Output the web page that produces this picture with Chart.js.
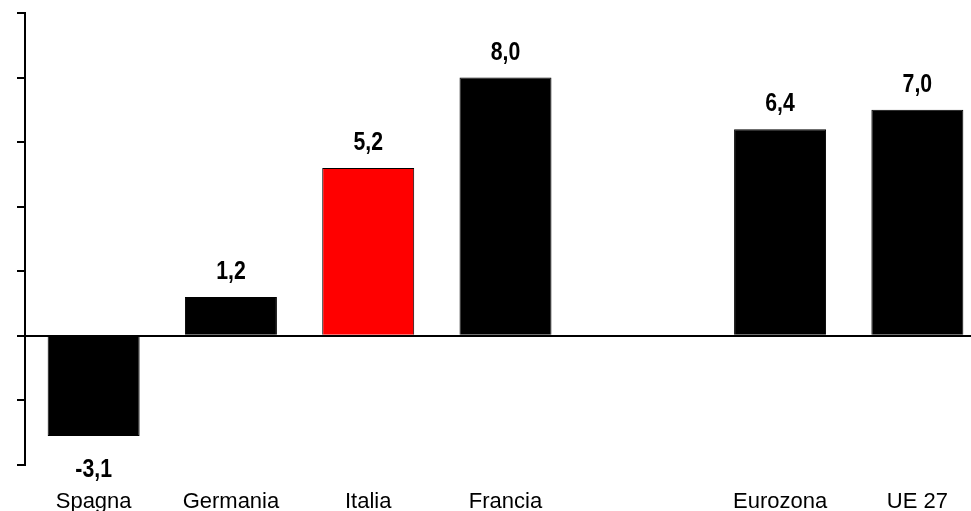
<!DOCTYPE html>
<html>
<head>
<meta charset="utf-8">
<script src="https://cdn.jsdelivr.net/npm/chart.js@4.4.1/dist/chart.umd.min.js"></script>
<style>
    html, body { margin: 0; padding: 0; background: #fff; overflow: hidden; }
    #wrap { width: 986px; height: 511px; }
</style>
</head>
<body>
<div id="wrap"><canvas id="bar-chart" width="986" height="511"></canvas></div>
<script>
// chart data
const countries = ['Spagna', 'Germania', 'Italia', 'Francia', '', 'Eurozona', 'UE 27'];
const values = [-3.1, 1.2, 5.2, 8.0, null, 6.4, 7.0];
const barColors = ['#000000', '#000000', '#ff0000', '#000000', '#000000', '#000000', '#000000'];
const yTicks = [-4, -2, 0, 2, 4, 6, 8, 10];

// writes the value (with comma) above or below each bar
const valueLabels = {
    id: 'valueLabels',
    afterDatasetsDraw(chart) {
        const ctx = chart.ctx;
        const meta = chart.getDatasetMeta(0);
        ctx.save();
        ctx.fillStyle = '#000';
        ctx.font = 'bold 25px "Liberation Sans", Arial, sans-serif';
        ctx.textAlign = 'center';
        ctx.textBaseline = 'alphabetic';
        meta.data.forEach((bar, i) => {
            const v = values[i];
            if (v === null) return;
            const text = v.toFixed(1).replace('.', ',');
            const y = v >= 0 ? bar.y - 18 : bar.y + 41;
            ctx.save();
            ctx.translate(bar.x, y);
            ctx.scale(0.85, 1);
            ctx.fillText(text, 0, 0);
            ctx.restore();
        });
        ctx.restore();
    }
};

const ctx = document.getElementById('bar-chart').getContext('2d');
new Chart(ctx, {
    type: 'bar',
    data: {
        labels: countries,
        datasets: [{
            data: values,
            backgroundColor: barColors,
            borderColor: '#000',
            borderWidth: 1,
            barPercentage: 0.67,
            categoryPercentage: 1
        }]
    },
    options: {
        responsive: false,
        animation: false,
        layout: { padding: { top: 13, left: 0, right: 0, bottom: 0 } },
        plugins: {
            legend: { display: false },
            tooltip: { enabled: false }
        },
        scales: {
            x: {
                grid: { display: false },
                border: { display: false },
                ticks: {
                    color: '#000',
                    padding: 16,
                    font: { family: '"Liberation Sans", Arial, sans-serif', size: 22 },
                    maxRotation: 0,
                    autoSkip: false
                },
                afterFit(scale) { scale.height = 46; }
            },
            y: {
                min: -4,
                max: 10,
                afterBuildTicks(scale) { scale.ticks = yTicks.map(v => ({ value: v })); },
                ticks: { display: false },
                grid: {
                    color: c => (c.tick && c.tick.value === 0) ? '#000' : 'rgba(0,0,0,0)',
                    tickColor: '#000',
                    lineWidth: 2,
                    tickLength: 8,
                    drawTicks: true
                },
                border: { display: true, color: '#000', width: 2 },
                afterFit(scale) { scale.width = 25; }
            }
        }
    },
    plugins: [valueLabels]
});
</script>
</body>
</html>
